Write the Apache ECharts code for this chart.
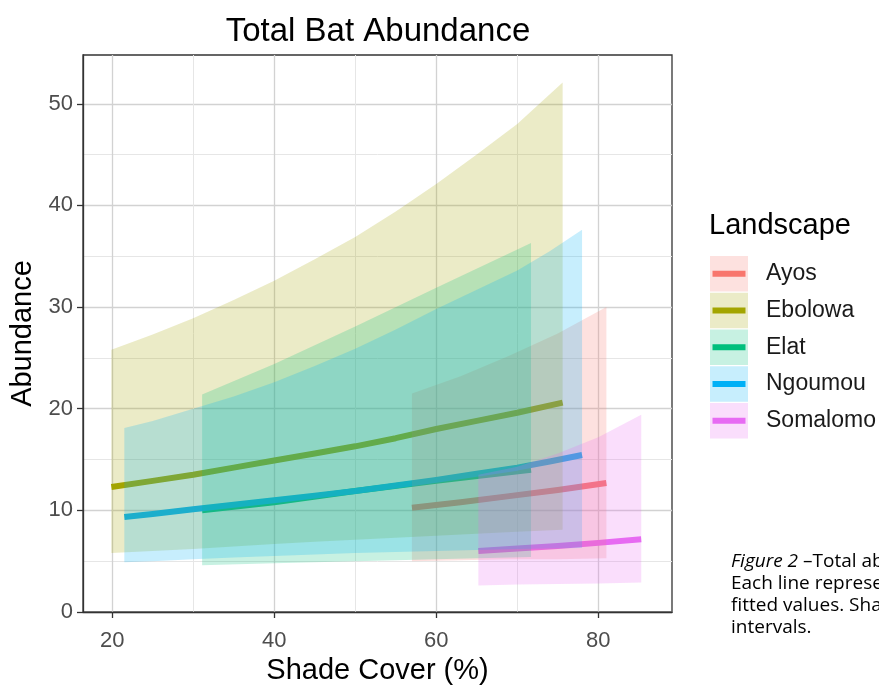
<!DOCTYPE html>
<html>
<head>
<meta charset="utf-8">
<script src="https://cdn.jsdelivr.net/npm/echarts@6/dist/echarts.min.js"></script>
<style>html,body{margin:0;padding:0;background:#fff;}#c{width:879px;height:689px;}</style>
</head>
<body>
<div id="c"></div>
<script>
// ---- data ----
const landscapes = ['Ayos', 'Ebolowa', 'Elat', 'Ngoumou', 'Somalomo'];
const colors = ['#F8766D', '#A3A500', '#00BF7D', '#00B0F6', '#E76BF3'];

const ayosX = [57, 63, 69, 75, 81];
const ayosFit = [10.25, 10.8, 11.4, 12.0, 12.7];
const ayosLo = [5.0, 5.1, 5.2, 5.2, 5.3];
const ayosHi = [21.5, 23.2, 25.2, 27.4, 30.0];

const ebolowaX = [19.9, 25, 30, 35, 40, 45, 50, 55, 60, 65, 70, 75.6];
const ebolowaFit = [12.3, 12.9, 13.5, 14.2, 14.9, 15.6, 16.3, 17.1, 18.0, 18.8, 19.6, 20.6];
const ebolowaLo = [5.8, 6.0, 6.2, 6.45, 6.7, 6.9, 7.1, 7.3, 7.5, 7.7, 7.9, 8.1];
const ebolowaHi = [25.8, 27.3, 28.9, 30.7, 32.6, 34.7, 36.9, 39.4, 42.1, 45.0, 48.0, 52.1];

const elatX = [31.1, 40, 50, 60, 71.7];
const elatFit = [10.0, 10.8, 11.9, 12.9, 14.0];
const elatLo = [4.6, 4.8, 5.0, 5.2, 5.4];
const elatHi = [21.4, 24.4, 28.1, 31.9, 36.3];

const ngoumouX = [21.5, 25, 30, 35, 40, 45, 50, 55, 60, 65, 70, 74, 78];
const ngoumouFit = [9.35, 9.65, 10.1, 10.55, 11.0, 11.45, 11.9, 12.45, 13.0, 13.6, 14.2, 14.8, 15.45];
const ngoumouLo = [4.9, 5.0, 5.2, 5.35, 5.5, 5.65, 5.8, 5.9, 6.0, 6.1, 6.2, 6.25, 6.3];
const ngoumouHi = [18.1, 18.8, 20.0, 21.2, 22.6, 24.2, 25.9, 27.8, 29.8, 31.7, 33.6, 35.5, 37.6];

const somalomoX = [65.2, 70, 75, 80, 85.3];
const somalomoFit = [6.0, 6.25, 6.5, 6.8, 7.15];
const somalomoLo = [2.6, 2.7, 2.75, 2.8, 2.9];
const somalomoHi = [13.5, 14.3, 15.6, 17.2, 19.4];

const xTicks = [20, 40, 60, 80];
const xMinorTicks = [30, 50, 70];
const yTicks = [0, 10, 20, 30, 40, 50];
const yMinorTicks = [5, 15, 25, 35, 45];

const captionLines = [
  '{i|Figure 2} –Total abundance of bats in relation to shade cover.',
  'Each line represents a landscape and its',
  'fitted values. Shaded areas are 95% confidence',
  'intervals.'
];

// ---- build ----
const groups = [
  [ayosX, ayosFit, ayosLo, ayosHi],
  [ebolowaX, ebolowaFit, ebolowaLo, ebolowaHi],
  [elatX, elatFit, elatLo, elatHi],
  [ngoumouX, ngoumouFit, ngoumouLo, ngoumouHi],
  [somalomoX, somalomoFit, somalomoLo, somalomoHi]
];
const ALPHA = 0.22;
function rgba(hex, a) {
  const n = parseInt(hex.slice(1), 16);
  return 'rgba(' + ((n >> 16) & 255) + ',' + ((n >> 8) & 255) + ',' + (n & 255) + ',' + a + ')';
}
const FONT = 'Liberation Sans';
const series = [];
landscapes.forEach((name, k) => {
  const [xs, fit, lo, hi] = groups[k];
  series.push({
    type: 'line', name: name, z: 2, silent: true,
    data: xs.map((x, i) => [x, fit[i]]),
    symbol: 'none', showSymbol: false,
    lineStyle: { width: 6, color: colors[k], cap: 'butt', join: 'round' },
    itemStyle: { color: colors[k] },
    emphasis: { disabled: true }
  });
});
landscapes.forEach((name, k) => {
  const [xs, fit, lo, hi] = groups[k];
  series.push({
    type: 'custom', name: name, z: 3, silent: true, clip: true,
    data: xs.map((x, i) => [x, lo[i], hi[i]]),
    encode: { x: 0, y: [1, 2] },
    renderItem: function (params, api) {
      if (params.dataIndex !== 0) return null;
      const pts = [];
      for (let i = 0; i < xs.length; i++) pts.push(api.coord([xs[i], hi[i]]));
      for (let i = xs.length - 1; i >= 0; i--) pts.push(api.coord([xs[i], lo[i]]));
      return { type: 'polygon', shape: { points: pts }, style: { fill: rgba(colors[k], ALPHA) } };
    }
  });
});

const chart = echarts.init(document.getElementById('c'), null, { renderer: 'canvas' });
const XMIN = 16.4, XMAX = 89.1, YMIN = 0, YMAX = 54.8;
const majorLine = { show: true, lineStyle: { color: '#d2d2d2', width: 1.3 } };
const minorLine = { show: true, lineStyle: { color: '#e6e6e6', width: 1 } };
const KEY_H = 35.5, KEY_GAP = 1.25;

chart.setOption({
  animation: false,
  backgroundColor: '#fff',
  textStyle: { fontFamily: FONT },
  title: {
    text: 'Total Bat Abundance', left: 378, top: 15, textAlign: 'center', padding: 0,
    textStyle: { fontSize: 33, fontWeight: 'normal', color: '#000', fontFamily: FONT }
  },
  grid: {
    left: 83, right: 207, top: 55, bottom: 77, show: true,
    borderColor: '#333', borderWidth: 1.3, backgroundColor: '#fff',
    containLabel: false, outerBoundsMode: 'none'
  },
  xAxis: [{
    type: 'value', min: XMIN, max: XMAX, position: 'bottom',
    name: 'Shade Cover (%)', nameLocation: 'middle', nameGap: 42,
    nameTextStyle: { fontSize: 29, color: '#000', fontFamily: FONT },
    axisLine: { show: true, lineStyle: { color: '#333', width: 1.3 } },
    axisTick: { show: true, length: 6, customValues: xTicks, lineStyle: { color: '#333', width: 1.3 } },
    axisLabel: { show: true, customValues: xTicks, margin: 18, fontSize: 22, color: '#4d4d4d', fontFamily: FONT },
    splitLine: majorLine
  }, {
    type: 'value', min: XMIN, max: XMAX, position: 'top',
    axisLine: { show: false }, axisLabel: { show: false },
    axisTick: { show: false, customValues: xMinorTicks },
    splitLine: minorLine
  }],
  yAxis: [{
    type: 'value', min: YMIN, max: YMAX, position: 'left',
    name: 'Abundance', nameLocation: 'middle', nameGap: 36,
    nameTextStyle: { fontSize: 29, color: '#000', fontFamily: FONT },
    axisLine: { show: true, lineStyle: { color: '#333', width: 1.3 } },
    axisTick: { show: true, length: 6, customValues: yTicks, lineStyle: { color: '#333', width: 1.3 } },
    axisLabel: { show: true, customValues: yTicks, margin: 10, fontSize: 22, color: '#4d4d4d', fontFamily: FONT },
    splitLine: majorLine
  }, {
    type: 'value', min: YMIN, max: YMAX, position: 'right',
    axisLine: { show: false }, axisLabel: { show: false },
    axisTick: { show: false, customValues: yMinorTicks },
    splitLine: minorLine
  }],
  legend: [{
    orient: 'vertical', left: 710, top: 256, padding: 0,
    itemWidth: 38, itemHeight: KEY_H, itemGap: KEY_GAP, selectedMode: false,
    icon: 'rect',
    itemStyle: { borderWidth: 0, opacity: 1 },
    textStyle: { fontSize: 23, color: '#1a1a1a', fontFamily: FONT, padding: [4, 0, 0, 13] },
    data: landscapes.map((n, k) => ({ name: n, icon: 'rect', itemStyle: { color: rgba(colors[k], ALPHA), borderWidth: 0, opacity: 1 } }))
  }, {
    orient: 'vertical', left: 710, top: 256, padding: 0, z: 6,
    itemWidth: 38, itemHeight: KEY_H, itemGap: KEY_GAP, selectedMode: false,
    formatter: function () { return ''; },
    itemStyle: { borderWidth: 0, opacity: 1 },
    data: landscapes.map((n, k) => ({
      name: n,
      icon: 'path://M0,0L0.01,0L0.01,0.01Z M2.5,14.75L35.5,14.75L35.5,20.75L2.5,20.75Z M37.99,35.5L38,35.5L38,35.51Z',
      itemStyle: { color: colors[k], borderWidth: 0, opacity: 1 }
    }))
  }],
  graphic: [
    { type: 'text', x: 709, y: 226, silent: true,
      style: { text: 'Landscape', fontSize: 29, fontFamily: FONT, fill: '#000', align: 'left', verticalAlign: 'middle' } }
  ].concat(captionLines.map((t, i) => ({
    type: 'text', x: 731, y: 562 + i * 22, silent: true,
    style: {
      text: t, fontSize: 19, fontFamily: 'Open Sans', fill: '#000', align: 'left', verticalAlign: 'middle',
      rich: { i: { fontStyle: 'italic', fontSize: 19, fontFamily: 'Open Sans', fill: '#000' } }
    }
  }))),
  series: series
});
</script>
</body>
</html>
